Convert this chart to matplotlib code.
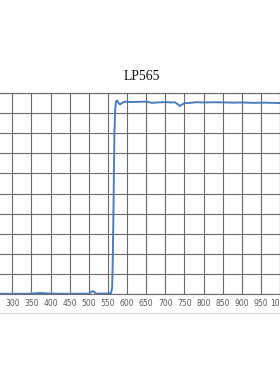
import matplotlib
matplotlib.use("Agg")
import matplotlib.pyplot as plt
from matplotlib.lines import Line2D

title = "LP565"
wavelength = [268, 300, 330, 350, 370, 390, 400, 450, 500, 505, 510, 515, 520, 550,
              558, 561, 563, 565, 567, 569, 571, 574, 578, 582, 587, 595, 610, 630,
              650, 665, 680, 700, 715, 725, 732, 738, 742, 750, 765, 780, 800, 830,
              860, 880, 900, 930, 960, 980, 1000]
transmission = [0.1, 0.1, 0.1, 0.2, 0.5, 0.3, 0.2, 0.1, 0.2, 0.8, 1.5, 0.8, 0.2, 0.2,
                0.5, 3, 20, 50, 80, 92, 95.8, 96.3, 95.0, 94.3, 95.1, 95.7, 95.5, 95.6,
                95.7, 95.1, 95.3, 95.5, 95.3, 95.4, 94.5, 93.5, 94.1, 94.9, 95.1, 95.4,
                95.3, 95.4, 95.3, 95.2, 95.3, 95.1, 95.2, 95.1, 95.0]
x_ticks = list(range(300, 1001, 50))
y_ticks = list(range(0, 101, 10))

W, H = 280, 380
fig = plt.figure(figsize=(W / 100, H / 100), dpi=100)
fig.patch.set_facecolor("white")

left_px, right_px, top_px, bottom_px = 0, 280, 93, 294
ax = fig.add_axes([left_px / W, (H - bottom_px) / H,
                   (right_px - left_px) / W, (bottom_px - top_px) / H])

grid_color = "#6a6a6a"
ax.plot(wavelength, transmission, color="#4a7ebb", lw=1.4, zorder=3)
ax.set_xlim(267.7, 1000)
ax.set_ylim(0, 100)
ax.set_xticks(x_ticks)
ax.set_yticks(y_ticks)
ax.set_yticklabels([])
ax.grid(True, color=grid_color, lw=0.8)
for side, sp in ax.spines.items():
    if side == "left":
        sp.set_visible(False)
    else:
        sp.set_color(grid_color)
        sp.set_linewidth(0.8)
ax.tick_params(axis="both", length=0)
ax.tick_params(axis="x", labelsize=5.5, labelcolor="#595959", pad=3.5)
ax.set_axisbelow(True)

fig.text(142 / W, (H - 77) / H, title, ha="center", va="center",
         fontsize=9.8, family="Liberation Serif", color="#111111")

fig.add_artist(Line2D([0, 1], [(H - 313) / H] * 2, color="#d9d9d9", lw=0.8,
                      transform=fig.transFigure))

fig.savefig("out.png", dpi=100, facecolor="white")
